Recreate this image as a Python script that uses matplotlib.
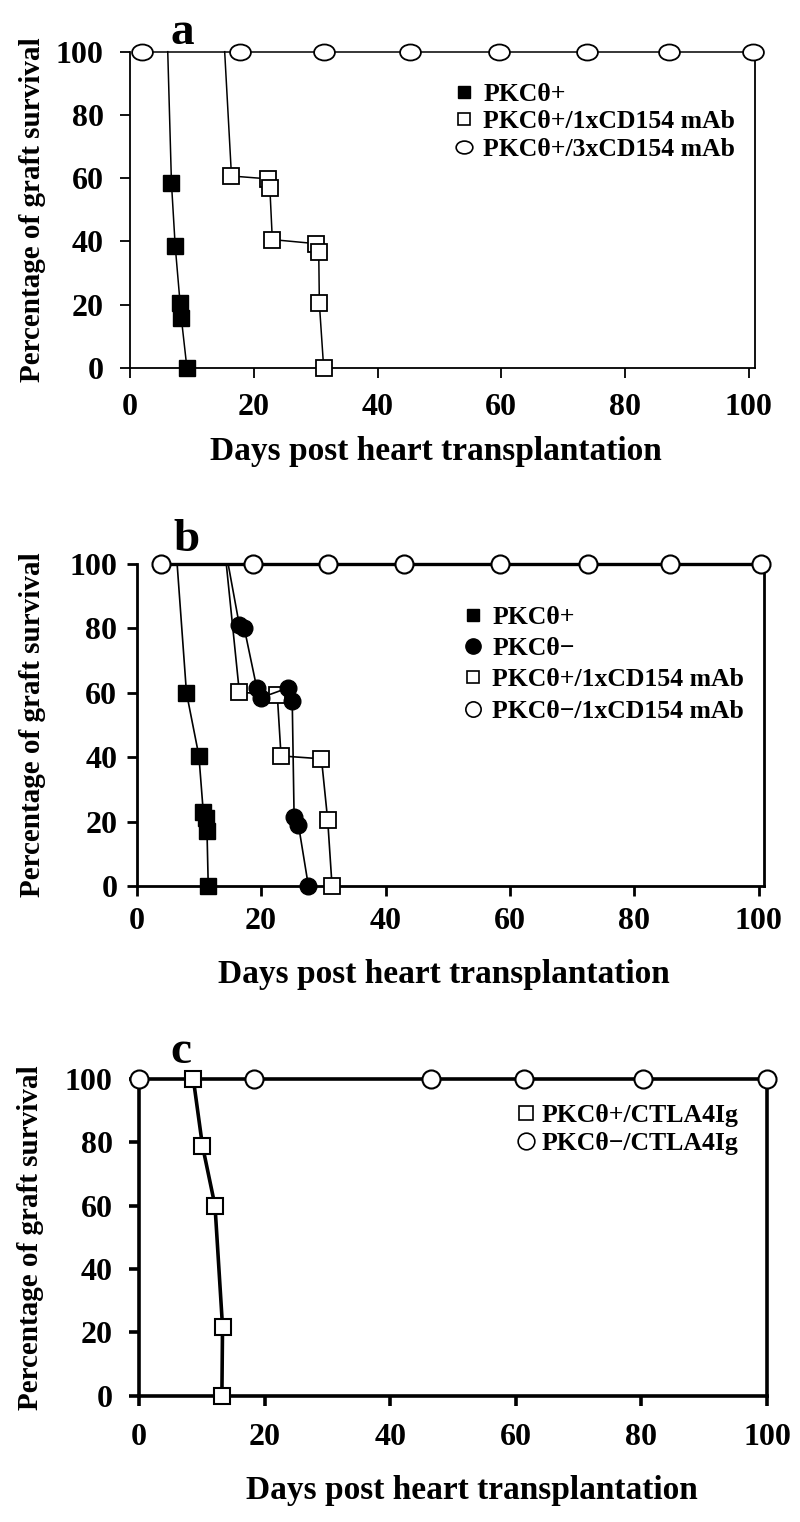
import matplotlib
matplotlib.use("Agg")
import matplotlib.pyplot as plt
from matplotlib.path import Path
from matplotlib.transforms import Affine2D
from matplotlib.lines import Line2D

plt.rcParams['font.family'] = ['Liberation Serif', 'DejaVu Serif']
plt.rcParams['font.weight'] = 'bold'
plt.rcParams['axes.labelweight'] = 'bold'

# ---- data ----
# panel a
a_pos_days = [6.1, 6.7, 7.3, 8.1, 8.3, 9.2]
a_pos_surv = [100, 58.5, 38.7, 20.4, 15.7, 0]
a_1x_days = [15.3, 16.4, 22.3, 22.6, 23.0, 30.1, 30.5, 30.6, 31.3]
a_1x_surv = [100, 60.7, 59.8, 57.0, 40.6, 39.3, 36.7, 20.4, 0]
a_3x_days = [2.0, 17.7, 31.3, 45.2, 59.6, 73.9, 87.1, 100.6]
a_3x_surv = [100, 100, 100, 100, 100, 100, 100, 100]
a_labels = ["PKC\u03b8+", "PKC\u03b8+/1xCD154 mAb", "PKC\u03b8+/3xCD154 mAb"]

# panel b
b_pos_days = [6.5, 8.0, 10.0, 10.7, 11.1, 11.3, 11.5]
b_pos_surv = [100, 60.0, 40.4, 23.0, 21.0, 17.0, 0]
b_neg_days = [14.7, 16.5, 17.3, 19.3, 20.0, 24.3, 25.0, 25.3, 26.0, 27.6]
b_neg_surv = [100, 81.0, 80.0, 61.5, 58.5, 61.5, 57.5, 21.5, 19.0, 0]
b_1x_days = [14.4, 16.5, 22.6, 23.2, 29.7, 30.7, 31.4]
b_1x_surv = [100, 60.2, 59.3, 40.4, 39.5, 20.5, 0]
b_neg1x_days = [3.9, 18.7, 30.8, 43.0, 58.4, 72.6, 85.8, 100.4]
b_neg1x_surv = [100, 100, 100, 100, 100, 100, 100, 100]
b_labels = ["PKC\u03b8+", "PKC\u03b8\u2212", "PKC\u03b8+/1xCD154 mAb",
            "PKC\u03b8\u2212/1xCD154 mAb"]

# panel c
c_pos_days = [8.65, 10.1, 12.1, 13.3, 13.2]
c_pos_surv = [100, 79.0, 60.0, 21.8, 0]
c_neg_days = [0, 18.3, 46.5, 61.3, 80.2, 100]
c_neg_surv = [100, 100, 100, 100, 100, 100]
c_labels = ["PKC\u03b8+/CTLA4Ig", "PKC\u03b8\u2212/CTLA4Ig"]

x_ticks = [0, 20, 40, 60, 80, 100]
y_ticks = [0, 20, 40, 60, 80, 100]

ellipse = Path(Affine2D().scale(1.3, 1.0).transform(Path.unit_circle().vertices),
               Path.unit_circle().codes)

W, H = 800, 1522
fig = plt.figure(figsize=(W / 100, H / 100), dpi=100)


def make_axes(l, r, t, b):
    return fig.add_axes([l / W, 1 - b / H, (r - l) / W, (b - t) / H])


def style_axes(ax, xmax, spine_w, ypad, xpad, letter, letter_xy, xlab_y, xlab_x):
    ax.set_xlim(0, xmax)
    ax.set_ylim(0, 100)
    ax.set_xticks(x_ticks)
    ax.set_yticks(y_ticks)
    ax.spines['top'].set_visible(False)
    for s in ['left', 'right', 'bottom']:
        ax.spines[s].set_linewidth(spine_w)
    ax.tick_params(axis='both', direction='out', length=7, width=spine_w,
                   labelsize=23)
    ax.tick_params(axis='y', pad=ypad)
    ax.tick_params(axis='x', pad=xpad)
    ax.set_xlabel("Days post heart transplantation", fontsize=24, va='center')
    ax.xaxis.set_label_coords(xlab_x, xlab_y)
    ax.set_ylabel("Percentage of graft survival", fontsize=21, va='center')
    ax.text(letter_xy[0], letter_xy[1], letter, transform=ax.transAxes,
            fontsize=34, ha='center', va='center')


# ---------------- panel a ----------------
ax = make_axes(130, 755, 51.7, 368)
ax.plot(a_3x_days, a_3x_surv, color='black', lw=1.1, marker=ellipse, ms=15,
        mfc='white', mec='black', mew=1.3, clip_on=False, zorder=3)
ax.plot(a_pos_days, a_pos_surv, color='black', lw=1.1, marker='s', ms=11,
        mfc='black', mec='black', markevery=list(range(1, len(a_pos_days))),
        clip_on=False, zorder=4)
ax.plot(a_1x_days, a_1x_surv, color='black', lw=1.1, marker='s', ms=11,
        mfc='white', mec='black', mew=1.3, markevery=list(range(1, len(a_1x_days))),
        clip_on=False, zorder=4)
handles = [Line2D([], [], ls='none', marker='s', ms=9, mfc='black', mec='black'),
           Line2D([], [], ls='none', marker='s', ms=9, mfc='white', mec='black', mew=1.2),
           Line2D([], [], ls='none', marker=ellipse, ms=12, mfc='white', mec='black', mew=1.2)]
ax.legend(handles, a_labels, loc='upper left', bbox_to_anchor=(0.518, 0.9),
          frameon=False, fontsize=18.5, handlelength=0.8, handletextpad=0.35,
          labelspacing=0.16, borderpad=0, borderaxespad=0)
style_axes(ax, 101, 1.3, 12, 11, 'a', (0.083, 1.059), -0.265, 0.49)
ax.yaxis.set_label_coords((33 - 130) / 625, 0.5)

# ---------------- panel b ----------------
ax = make_axes(136.7, 763.8, 564, 886)
ax.plot(b_neg1x_days, b_neg1x_surv, color='black', lw=2.4, marker='o', ms=13,
        mfc='white', mec='black', mew=1.5, clip_on=False, zorder=3)
ax.plot(b_pos_days, b_pos_surv, color='black', lw=1.2, marker='s', ms=11,
        mfc='black', mec='black', markevery=list(range(1, len(b_pos_days))),
        clip_on=False, zorder=4)
ax.plot(b_1x_days, b_1x_surv, color='black', lw=1.2, marker='s', ms=11,
        mfc='white', mec='black', mew=1.3, markevery=list(range(1, len(b_1x_days))),
        clip_on=False, zorder=4)
ax.plot(b_neg_days, b_neg_surv, color='black', lw=1.2, marker='o', ms=12,
        mfc='black', mec='black', markevery=list(range(1, len(b_neg_days))),
        clip_on=False, zorder=5)
handles = [Line2D([], [], ls='none', marker='s', ms=9, mfc='black', mec='black'),
           Line2D([], [], ls='none', marker='o', ms=11, mfc='black', mec='black'),
           Line2D([], [], ls='none', marker='s', ms=9, mfc='white', mec='black', mew=1.2),
           Line2D([], [], ls='none', marker='o', ms=11, mfc='white', mec='black', mew=1.2)]
ax.legend(handles, b_labels, loc='upper left', bbox_to_anchor=(0.52, 0.87),
          frameon=False, fontsize=18.5, handlelength=0.8, handletextpad=0.35,
          labelspacing=0.32, borderpad=0, borderaxespad=0)
style_axes(ax, 100.8, 2.0, 7, 8, 'b', (0.079, 1.075), -0.275, 0.49)
ax.yaxis.set_label_coords((33 - 136.7) / 627.1, 0.5)

# ---------------- panel c ----------------
ax = make_axes(139, 767, 1079, 1395.7)
ax.plot(c_neg_days, c_neg_surv, color='black', lw=2.6, marker='o', ms=13,
        mfc='white', mec='black', mew=1.5, clip_on=False, zorder=3)
ax.plot(c_pos_days, c_pos_surv, color='black', lw=2.6, marker='s', ms=11,
        mfc='white', mec='black', mew=1.5, clip_on=False, zorder=4)
handles = [Line2D([], [], ls='none', marker='s', ms=10, mfc='white', mec='black', mew=1.2),
           Line2D([], [], ls='none', marker='o', ms=12, mfc='white', mec='black', mew=1.2)]
ax.legend(handles, c_labels, loc='upper left', bbox_to_anchor=(0.6, 0.92),
          frameon=False, fontsize=18.5, handlelength=0.8, handletextpad=0.2,
          labelspacing=0.2, borderpad=0, borderaxespad=0)
style_axes(ax, 100, 2.6, 12, 13, 'c', (0.067, 1.085), -0.30, 0.53)
ax.yaxis.set_label_coords((31 - 139) / 628, 0.5)

fig.savefig("out.png", dpi=100)
